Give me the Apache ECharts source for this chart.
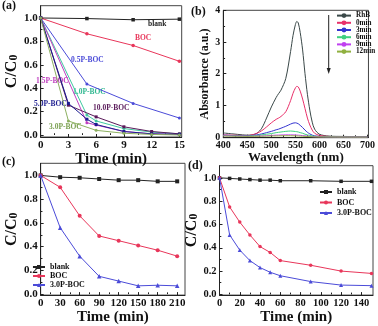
<!DOCTYPE html>
<html><head><meta charset="utf-8">
<script src="https://cdn.jsdelivr.net/npm/echarts@6/dist/echarts.min.js"></script>
<style>html,body{margin:0;padding:0;background:#fff}#c{width:378px;height:326px}</style>
</head><body><div id="c"></div>
<script>
// ---------- Panel (a) ----------
const aBlankX = [0,5,10,15],            aBlankY = [1.0,0.995,0.985,0.99];
const aBocX   = [0,5,10,15],            aBocY   = [1.0,0.865,0.765,0.63];
const a05X    = [0,5,10,15],            a05Y    = [1.0,0.435,0.27,0.145];
const a15X    = [0,5,6,9,12,15],        a15Y    = [1.0,0.105,0.085,0.03,0.01,0.005];
const a10X    = [0,5,6,9,12,15],        a10Y    = [1.0,0.17,0.12,0.055,0.025,0.01];
const a50X    = [0,3,5,6,9,12,15],      a50Y    = [1.0,0.27,0.135,0.09,0.03,0.01,0.005];
const a100X   = [0,3,6,9,12,15],        a100Y   = [1.0,0.255,0.155,0.07,0.03,0.01];
const a30X    = [0,3,6,9,12,15],        a30Y    = [1.0,0.12,0.04,0.015,0.005,0.0];
const aXTicks = [0,3,6,9,12,15];
const cTicksY = [0,0.2,0.4,0.6,0.8,1.0];

// ---------- Panel (b) ----------
const wl      = [400,420,440,450,460,470,480,490,500,510,515,520,530,540,545,550,553,556,560,565,570,575,580,585,590,600,620,650,700];
const bRhB    = [0.13,0.10,0.07,0.06,0.07,0.12,0.28,0.60,0.95,1.25,1.37,1.48,1.85,2.70,3.20,3.55,3.65,3.60,3.30,2.75,2.00,1.35,0.85,0.47,0.25,0.09,0.03,0.02,0.01];
const b0      = [0.07,0.06,0.05,0.05,0.07,0.12,0.20,0.32,0.45,0.56,0.60,0.65,0.80,1.15,1.38,1.55,1.60,1.58,1.45,1.20,0.90,0.60,0.38,0.22,0.12,0.05,0.02,0.01,0.00];
const b3      = [0.06,0.05,0.04,0.04,0.05,0.07,0.10,0.14,0.18,0.23,0.25,0.28,0.34,0.41,0.44,0.45,0.44,0.42,0.37,0.30,0.22,0.15,0.10,0.06,0.04,0.02,0.01,0.005,0.0];
const b6      = [0.05,0.04,0.03,0.03,0.04,0.05,0.07,0.09,0.11,0.14,0.15,0.16,0.18,0.19,0.185,0.175,0.17,0.16,0.14,0.12,0.09,0.07,0.05,0.035,0.025,0.015,0.01,0.005,0.0];
const b9      = [0.04,0.035,0.03,0.025,0.025,0.03,0.035,0.04,0.05,0.06,0.062,0.065,0.07,0.07,0.068,0.065,0.062,0.06,0.055,0.045,0.038,0.03,0.022,0.016,0.012,0.008,0.004,0.002,0.0];
const b12     = [0.03,0.028,0.025,0.022,0.022,0.024,0.026,0.03,0.033,0.036,0.038,0.04,0.042,0.042,0.04,0.038,0.036,0.034,0.03,0.026,0.022,0.018,0.014,0.01,0.008,0.005,0.003,0.001,0.0];
const bNames  = ['RhB','0min','3min','6min','9min','12min'];
const bXTicks = [400,450,500,550,600,650,700];
const bYTicks = [0,1,2,3,4];

// ---------- Panel (c) ----------
const cX      = [0,30,60,90,120,150,180,210];
const cBlank  = [1.0,0.985,0.98,0.97,0.96,0.96,0.95,0.95];
const cBoc    = [1.0,0.90,0.66,0.49,0.45,0.41,0.37,0.32];
const c30     = [1.0,0.56,0.32,0.15,0.11,0.07,0.075,0.07];
const cXTicks = [0,30,60,90,120,150,180,210];

// ---------- Panel (d) ----------
const dX      = [0,10,20,30,40,50,60,90,120,150];
const dBlank  = [1.0,0.995,0.99,0.985,0.98,0.98,0.975,0.975,0.97,0.97];
const dBoc    = [1.0,0.75,0.62,0.51,0.41,0.36,0.29,0.25,0.20,0.18];
const d30     = [1.0,0.51,0.38,0.29,0.23,0.19,0.16,0.11,0.08,0.075];
const dXTicks = [0,20,40,60,80,100,120,140];

const F = '"Liberation Serif","Times New Roman",serif';
const pairs = (xs, ys) => xs.map((x,i)=>[x, ys[i]]);
const mids = t => t.slice(0,-1).map((v,i)=>(v+t[i+1])/2);

function axisPair(dim, gi, min, max, ticks, fs, fmt, name, gap, nameStyle) {
  const main = {
    type:'value', gridIndex:gi, min, max, position: dim==='x'?'bottom':'left',
    axisLine:{show:true, onZero:false, lineStyle:{color:'#222', width:1}},
    axisTick:{show:true, inside:true, length:3, customValues:ticks, lineStyle:{color:'#222'}},
    axisLabel:{customValues:ticks, margin:3, fontFamily:F, fontWeight:'bold', fontSize:fs, color:'#111', formatter:fmt},
    splitLine:{show:false},
    name, nameLocation:'middle', nameGap:gap, nameTextStyle:nameStyle
  };
  const minor = {
    type:'value', gridIndex:gi, min, max, position: dim==='x'?'bottom':'left',
    axisLine:{show:false}, axisLabel:{show:false}, splitLine:{show:false},
    axisTick:{show:true, inside:true, length:1.8, customValues:mids(ticks), lineStyle:{color:'#222'}}
  };
  return [main, minor];
}
const nameBig = fs => ({fontFamily:F, fontWeight:'bold', fontSize:fs, color:'#111'});
const ccName = {
  rich:{
    a:{fontFamily:F, fontWeight:'bold', fontSize:16, color:'#111', lineHeight:16, verticalAlign:'top'},
    b:{fontFamily:F, fontWeight:'bold', fontSize:12, color:'#111', lineHeight:12, verticalAlign:'bottom', padding:[7,0,0,0]}
  }
};
const CC = '{a|C/C}{b|0}';
const f1 = v => v.toFixed(1);
const f0 = v => String(v);

const grids = [
  {left:32.5, top:5.7, width:149.2, height:131.3},
  {left:223.3, top:10.3, width:147.4, height:127.4},
  {left:30.7, top:163.3, width:154.3, height:134.4},
  {left:219.5, top:165.7, width:153.5, height:134.3}
].map(g => Object.assign(g, {show:true, borderColor:'#444', borderWidth:1, backgroundColor:'transparent'}));

const xAxes = [].concat(
  axisPair('x',0,0,15.25,aXTicks,11,f0,'Time (min)',9,nameBig(15)),
  axisPair('x',1,400,702,bXTicks,10,f0,'Wavelength (nm)',12,nameBig(13)),
  axisPair('x',2,0,222,cXTicks,11,f0,'Time (min)',10.5,nameBig(15)),
  axisPair('x',3,0,151.5,dXTicks,10.5,f0,'Time (min)',10.5,nameBig(15))
);
const yAxes = [].concat(
  axisPair('y',0,-0.017,1.105,cTicksY,11,f1,CC,16,ccName),
  axisPair('y',1,-0.02,4,bYTicks,10,f0,'Absorbance (a.u.)',12,nameBig(12)),
  axisPair('y',2,-0.008,1.102,cTicksY,11,f1,CC,17,ccName),
  axisPair('y',3,-0.006,1.104,cTicksY,10.5,f1,CC,17,ccName)
);

function ls(name, gi, data, color, symbol, size, extra) {
  return Object.assign({
    name, type:'line', xAxisIndex:gi*2, yAxisIndex:gi*2, data,
    symbol, symbolSize:size, showSymbol: symbol!=='none',
    lineStyle:{color, width:1}, itemStyle:{color}, color,
    emphasis:{disabled:true}, animation:false, silent:true
  }, extra||{});
}
const RED='#e8365a', BLUE='#4b4bd8', BLK='#222';
const series = [
  // (c)
  ls('blank',2,pairs(cX,cBlank),BLK,'rect',4),
  ls('BOC',2,pairs(cX,cBoc),RED,'circle',4),
  ls('3.0P-BOC',2,pairs(cX,c30),BLUE,'triangle',4.5),
  // (d)
  ls('blank',3,pairs(dX,dBlank),BLK,'rect',3.5),
  ls('BOC',3,pairs(dX,dBoc),RED,'circle',3.5),
  ls('3.0P-BOC',3,pairs(dX,d30),BLUE,'triangle',4),
  // (a)
  ls('a-blank',0,pairs(aBlankX,aBlankY),BLK,'rect',3.5),
  ls('a-BOC',0,pairs(aBocX,aBocY),RED,'circle',3.5),
  ls('a-0.5P',0,pairs(a05X,a05Y),BLUE,'circle',3),
  ls('a-1.0P',0,pairs(a10X,a10Y),'#3fc8a0','circle',3),
  ls('a-1.5P',0,pairs(a15X,a15Y),'#c040c0','circle',3),
  ls('a-10.0P',0,pairs(a100X,a100Y),'#5a1a5a','rect',3),
  ls('a-5.0P',0,pairs(a50X,a50Y),'#1c1c90','rect',3),
  ls('a-3.0P',0,pairs(a30X,a30Y),'#8cb060','circle',3),
  // (b)
  ls('RhB',1,pairs(wl,bRhB),'#3a4848','none',0,{smooth:0.3}),
  ls('0min',1,pairs(wl,b0),'#e8306a','none',0,{smooth:0.3}),
  ls('3min',1,pairs(wl,b3),'#3434d0','none',0,{smooth:0.3}),
  ls('6min',1,pairs(wl,b6),'#40d080','none',0,{smooth:0.3}),
  ls('9min',1,pairs(wl,b9),'#c040f0','none',0,{smooth:0.3}),
  ls('12min',1,pairs(wl,b12),'#90b040','none',0,{smooth:0.3})
];

const legTxt = fs => ({fontFamily:F, fontWeight:'bold', fontSize:fs, color:'#111', lineHeight:fs});
const legends = [
  {data:bNames, orient:'vertical', left:336, top:12, itemWidth:14, itemHeight:6, itemGap:0, textStyle:legTxt(7.2), selectedMode:false, padding:0},
  {data:['blank','BOC','3.0P-BOC'], orient:'vertical', left:32, top:263, itemWidth:12, itemHeight:5, itemGap:1, textStyle:legTxt(8), selectedMode:false, padding:0},
  {data:['blank','BOC','3.0P-BOC'], orient:'vertical', left:319, top:188, itemWidth:12, itemHeight:5, itemGap:2.5, textStyle:legTxt(8), selectedMode:false, padding:0}
];

const txt = (x,y,s,fs,color) => ({type:'text', left:x, top:y, style:{text:s, fontFamily:F, fontWeight:'bold', fontSize:fs, fill:color}, silent:true});
const graphic = [
  txt(2,0,'(a)',12,'#111'),
  txt(191,6,'(b)',12,'#111'),
  txt(2,156,'(c)',12,'#111'),
  txt(188,160,'(d)',12,'#111'),
  txt(148,20,'blank',7.5,'#222'),
  txt(135,34,'BOC',7.5,RED),
  txt(71,56,'0.5P-BOC',7.5,BLUE),
  txt(36,77,'1.5P-BOC',7.5,'#c040c0'),
  txt(73,88,'1.0P-BOC',7.5,'#30b890'),
  txt(34,100,'5.0P-BOC',7.5,'#1c1c90'),
  txt(93,104,'10.0P-BOC',7.5,'#5a1a5a'),
  txt(49,123,'3.0P-BOC',7.5,'#7aa050'),
  {type:'line', shape:{x1:328.7,y1:15,x2:328.7,y2:69}, style:{stroke:'#222', lineWidth:1}, silent:true},
  {type:'polygon', shape:{points:[[326.7,68],[330.7,68],[328.7,74]]}, style:{fill:'#222'}, silent:true}
];

const chart = echarts.init(document.getElementById('c'), null, {renderer:'canvas'});
chart.setOption({
  animation:false, backgroundColor:'#fff',
  grid:grids, xAxis:xAxes, yAxis:yAxes, series, legend:legends, graphic
});
</script></body></html>
